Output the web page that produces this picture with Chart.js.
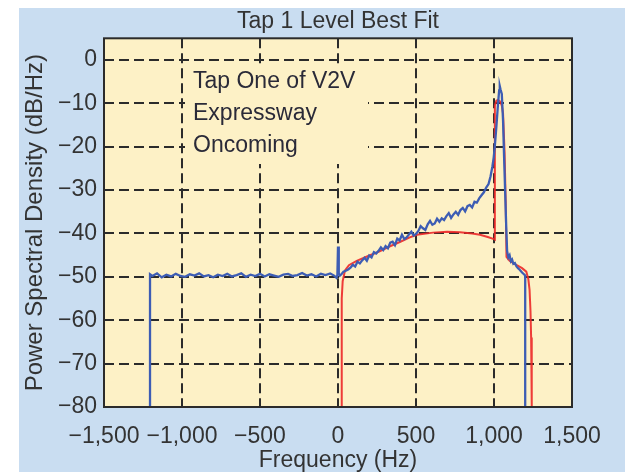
<!DOCTYPE html>
<html>
<head>
<meta charset="utf-8">
<script src="https://cdn.jsdelivr.net/npm/chart.js@4.4.1/dist/chart.umd.min.js"></script>
<style>
  html, body { margin: 0; padding: 0; background: #fff; }
  #wrap { width: 625px; height: 472px; }
</style>
</head>
<body>
<div id="wrap"><canvas id="myChart"></canvas></div>
<script>
// measured spectrum (blue)
const blueFreq = [
  -1205, -1205, -1190, -1160, -1130, -1100, -1070, -1040, -1010, -980,
  -950, -920, -890, -860, -830, -800, -770, -740, -710, -680,
  -650, -620, -590, -560, -530, -500, -470, -440, -410, -380,
  -350, -320, -290, -260, -230, -200, -170, -140, -110, -80,
  -50, -25, -10, -4, 0, 5, 12, 22, 35, 50,
  65, 80, 95, 110, 125, 140, 155, 170, 185, 200,
  215, 230, 245, 260, 275, 290, 305, 320, 335, 350,
  365, 380, 395, 410, 425, 440, 455, 470, 485, 500,
  515, 530, 545, 560, 575, 590, 605, 620, 635, 650,
  665, 680, 695, 710, 725, 740, 755, 770, 785, 800,
  815, 830, 845, 860, 875, 890, 905, 920, 935, 950,
  965, 978, 990, 998, 1005, 1015, 1025, 1033, 1037, 1042,
  1050, 1058, 1066, 1072, 1078, 1084, 1092, 1100, 1108, 1116,
  1124, 1134, 1144, 1154, 1166, 1180, 1192, 1200, 1200];
const bluePsd = [
  -80, -49.4, -49.8, -49.2, -50.1, -49.5, -49.9, -49.3, -49.8, -50.0,
  -49.4, -49.7, -49.2, -49.9, -49.6, -50.1, -49.5, -49.8, -49.3, -49.9,
  -49.6, -49.2, -50.0, -49.5, -49.8, -49.3, -49.9, -49.4, -49.7, -50.0,
  -49.5, -49.3, -49.8, -49.6, -49.1, -49.7, -49.4, -49.9, -49.3, -49.6,
  -49.2, -49.7, -50.2, -49.6, -43.0, -49.2, -49.7, -49.4, -48.8, -48.6,
  -48.3, -47.9, -47.2, -47.6, -46.5, -46.9, -46.2, -45.6, -46.3, -45.1,
  -45.5, -44.3, -44.6, -44.0, -43.2, -43.8, -42.9, -43.4, -42.1, -41.9,
  -42.7, -41.2, -41.6, -40.3, -41.3, -40.9, -40.2, -39.6, -40.5, -40.1,
  -39.4, -38.3, -38.8, -39.2, -37.9, -37.1, -38.0, -37.7, -36.6, -37.3,
  -36.5, -36.9, -36.0, -35.3, -36.4, -35.6, -35.0, -35.7, -34.6, -34.1,
  -34.9, -33.7, -33.4, -34.0, -32.7, -32.9, -31.9, -31.2, -30.5, -29.4,
  -28.6, -26.8, -24.5, -22.5, -20.0, -15.5, -10.5, -7.0, -6.0, -6.8,
  -7.8, -14.0, -24.0, -31.0, -38.0, -44.0, -45.5, -45.0, -46.4, -46.0,
  -47.0, -46.8, -47.6, -48.0, -48.4, -49.0, -49.4, -49.7, -80];

// best fit (red)
const redFreq = [22, 23, 25, 30, 45, 70, 120, 186, 260, 330, 400, 460, 506, 609, 700, 782, 860, 910, 960, 1000, 1005,
  1006, 1015, 1026, 1040, 1050, 1058, 1068, 1075, 1080, 1100, 1140, 1180, 1207, 1220, 1228, 1234, 1238, 1241, 1243];
const redPsd = [-80, -65, -55, -51, -48.5, -47.3, -46.3, -45.3, -44.2, -43.0, -41.9, -40.9, -40.3, -39.8, -39.6, -39.7, -40.0, -40.3, -40.8, -41.3, -41.4,
  -10.5, -9.4, -9.2, -9.6, -10.5, -12.3, -21.5, -33.0, -45.4, -46.3, -47.2, -48.0, -48.8, -50.5, -53.0, -58.0, -64.0, -72.0, -80];

const noteLines = ['Tap One of V2V', 'Expressway', 'Oncoming'];

const FONT = '"Liberation Sans", Arial, Helvetica, sans-serif';
const TXT = '#333333';
const PLOT_BG = '#fdf1c6';

function fmt(v) {
  const s = Math.abs(v).toLocaleString('en-US');
  return v < 0 ? '\u2212' + s : s;
}

const panelPlugin = {
  id: 'panel',
  beforeDraw(chart) {
    const ctx = chart.ctx, a = chart.chartArea;
    ctx.save();
    ctx.fillStyle = '#ffffff';
    ctx.fillRect(0, 0, chart.width, chart.height);
    ctx.fillStyle = '#c9ddf1';
    ctx.fillRect(19, 8, chart.width - 19, chart.height - 8);
    ctx.fillStyle = PLOT_BG;
    ctx.fillRect(a.left, a.top, a.right - a.left, a.bottom - a.top);
    ctx.restore();
  },
  beforeDatasetsDraw(chart) {
    // the note hides the grid behind it
    const ctx = chart.ctx;
    ctx.save();
    ctx.fillStyle = PLOT_BG;
    ctx.fillRect(185, 64, 183, 100);
    ctx.restore();
  },
  afterDraw(chart) {
    const ctx = chart.ctx, a = chart.chartArea;
    ctx.save();
    ctx.strokeStyle = '#2b2b2b';
    ctx.lineWidth = 2;
    ctx.strokeRect(a.left, a.top, a.right - a.left, a.bottom - a.top);
    ctx.fillStyle = '#2a2a38';
    ctx.font = '23px ' + FONT;
    ctx.textBaseline = 'alphabetic';
    ctx.textAlign = 'left';
    noteLines.forEach((t, i) => ctx.fillText(t, 193, 88 + i * 32));
    ctx.restore();
  }
};

const data = {
  datasets: [{
    label: 'Measured',
    data: blueFreq.map((f, i) => ({ x: f, y: bluePsd[i] })),
    borderColor: '#3d5db4',
    borderWidth: 2.3,
    pointRadius: 0,
    tension: 0
  },
  {
    label: 'Best fit',
    data: redFreq.map((f, i) => ({ x: f, y: redPsd[i] })),
    borderColor: 'rgba(236, 40, 40, 0.9)',
    borderWidth: 2,
    pointRadius: 0,
    tension: 0
  }]
};

const config = {
  type: 'line',
  data,
  options: {
    responsive: true,
    maintainAspectRatio: false,
    animation: false,
    layout: { padding: { left: 0, right: 53, top: 0, bottom: 0 } },
    plugins: {
      legend: { display: false },
      tooltip: { enabled: false },
      title: {
        display: true,
        text: 'Tap 1 Level Best Fit',
        fullSize: false,
        color: TXT,
        font: { family: FONT, size: 23, weight: 'normal', lineHeight: 1.2 },
        padding: { top: 8, bottom: 2.7 }
      }
    },
    scales: {
      x: {
        type: 'linear',
        min: -1500,
        max: 1500,
        afterFit(s) { s.height = 65; },
        ticks: {
          stepSize: 500,
          autoSkip: false,
          maxRotation: 0,
          padding: 16,
          color: TXT,
          font: { family: FONT, size: 23 },
          callback: v => fmt(v)
        },
        grid: { color: '#2b2b2b', lineWidth: 2, drawTicks: false },
        border: { display: false, dash: [10, 5] },
        title: {
          display: true,
          text: 'Frequency (Hz)',
          color: TXT,
          font: { family: FONT, size: 23, lineHeight: 1 },
          padding: 0
        }
      },
      y: {
        type: 'linear',
        min: -80,
        max: 5,
        afterFit(s) { s.width = 104; },
        afterBuildTicks(s) { s.ticks = s.ticks.filter(t => t.value % 10 === 0); },
        ticks: {
          stepSize: 10,
          padding: 7,
          color: TXT,
          font: { family: FONT, size: 23 },
          callback: v => fmt(v)
        },
        grid: { color: '#2b2b2b', lineWidth: 2, drawTicks: false },
        border: { display: false, dash: [10, 5] },
        title: {
          display: true,
          text: 'Power Spectral Density (dB/Hz)',
          color: TXT,
          font: { family: FONT, size: 24, lineHeight: 1.2 },
          padding: { top: 21, bottom: 0 }
        }
      }
    }
  },
  plugins: [panelPlugin]
};

const myChart = new Chart(document.getElementById('myChart'), config);
</script>
</body>
</html>
